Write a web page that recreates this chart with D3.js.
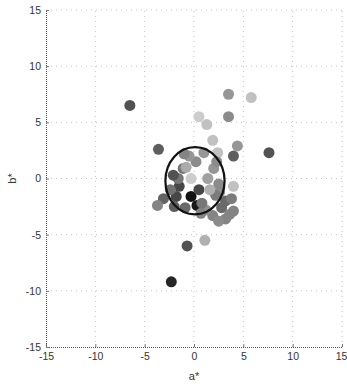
<!DOCTYPE html>
<html>
<head>
<meta charset="utf-8">
<script src="https://cdn.jsdelivr.net/npm/d3@7"></script>
<style>
  body { margin: 0; background: #fff; }
  svg { display: block; font-family: "Liberation Sans", Arial, sans-serif; }
</style>
</head>
<body>
<div id="chart"></div>
<script>
// sample colours: a*, b* and lightness L*
const aStar = [-6.5, -3.6, 7.6, -2.3, -0.7, 1.1, 3.5, 5.8, 0.5, 1.3, 3.5, 1.9, 4.4, 4.0, 2.4, 4.0,
  -3.1, -3.7, -0.3, 0.3, -1.5, -1.8, -1.1, 0.2, 1.4, -0.3, -1.6, 2.0, -2.1, 3.2, 4.0, 3.2, 1.9, 1.2, 0.7,
  0.5, -0.5, 0.8, 2.6, -0.9, -1.0, 1.0, 2.3, 2.5, 2.2, -2.0, 2.8, 3.8, 2.5, 3.6, -0.8, 1.6, -2.4];
const bStar = [6.5, 2.6, 2.3, -9.2, -6.0, -5.5, 7.5, 7.2, 5.5, 4.8, 5.5, 3.4, 2.9, 2.0, 2.3, -0.7,
  -1.8, -2.4, -1.6, -2.4, -0.7, -1.6, 0.9, 1.5, 0.0, 0.0, 0.0, 0.9, 0.3, -2.0, -2.9, -3.6, -3.3, -2.8, -3.1,
  -1.0, 2.0, -2.2, -1.2, -2.6, 2.2, 2.3, 1.5, -0.5, -1.5, -2.5, -2.6, -1.8, -3.8, -3.2, 1.0, -1.0, -1.0];
const lStar = [35, 40, 35, 15, 35, 72, 62, 78, 82, 78, 58, 78, 62, 40, 78, 78,
  42, 55, 6, 8, 30, 30, 50, 58, 66, 82, 50, 62, 35, 45, 55, 55, 55, 60, 55,
  30, 62, 50, 60, 45, 55, 62, 58, 58, 52, 40, 45, 52, 58, 55, 70, 72, 48];

// tolerance circle
const circleCenter = [0.1, -0.2];
const circleRadius = 3;

const ticks = [-15, -10, -5, 0, 5, 10, 15];

const width = 347, height = 386;
const margin = { left: 46, top: 10, right: 5, bottom: 39 };

const svg = d3.select('#chart').append('svg')
  .attr('width', width)
  .attr('height', height);

const x = d3.scaleLinear().domain([-15, 15]).range([margin.left, width - margin.right]);
const y = d3.scaleLinear().domain([-15, 15]).range([height - margin.bottom, margin.top]);

// grid
const grid = svg.append('g').attr('stroke', '#c4c4c4').attr('stroke-dasharray', '1,4');
grid.selectAll('.gx').data(ticks.slice(1)).enter().append('line')
  .attr('x1', d => x(d)).attr('x2', d => x(d))
  .attr('y1', y(-15)).attr('y2', y(15));
grid.selectAll('.gy').data(ticks.slice(1)).enter().append('line')
  .attr('y1', d => y(d)).attr('y2', d => y(d))
  .attr('x1', x(-15)).attr('x2', x(15));

// points
const pts = aStar.map((a, i) => ({ a: a, b: bStar[i], L: lStar[i] }));
svg.append('g').selectAll('circle').data(pts).enter().append('circle')
  .attr('cx', d => x(d.a))
  .attr('cy', d => y(d.b))
  .attr('r', 5.5)
  .attr('fill', d => d3.lab(d.L, 0, 0).formatHex());

// circle around the reference
svg.append('ellipse')
  .attr('cx', x(circleCenter[0]))
  .attr('cy', y(circleCenter[1]))
  .attr('rx', x(circleRadius) - x(0))
  .attr('ry', y(0) - y(circleRadius))
  .attr('fill', 'none')
  .attr('stroke', '#111')
  .attr('stroke-width', 2.2);

// axes
const xAxis = d3.axisBottom(x).tickValues(ticks).tickSize(-3).tickPadding(6);
const yAxis = d3.axisLeft(y).tickValues(ticks).tickSize(-3).tickPadding(5);

const gx = svg.append('g')
  .attr('transform', 'translate(0,' + y(-15) + ')')
  .call(xAxis);
const gy = svg.append('g')
  .attr('transform', 'translate(' + x(-15) + ',0)')
  .call(yAxis);

[gx, gy].forEach(g => {
  g.select('.domain').attr('stroke', '#555').attr('stroke-dasharray', '1,1');
  g.selectAll('.tick line').attr('stroke', '#777');
  g.selectAll('.tick text').attr('fill', '#333').style('font-size', '10.5px')
    .style('font-family', '"Liberation Sans", Arial, sans-serif');
});
gx.selectAll('.tick text').text(d => d < 0 ? '-' + Math.abs(d) : d);
gy.selectAll('.tick text').text(d => d < 0 ? '-' + Math.abs(d) : d);
gx.selectAll('.tick text').filter(d => d === 15).attr('dx', -1);

// axis titles
svg.append('text')
  .attr('x', x(0))
  .attr('y', 380)
  .attr('text-anchor', 'middle')
  .attr('fill', '#333')
  .style('font-size', '11px')
  .text('a*');

svg.append('text')
  .attr('transform', 'translate(16,' + y(0) + ') rotate(-90)')
  .attr('text-anchor', 'middle')
  .attr('fill', '#333')
  .style('font-size', '11px')
  .text('b*');
</script>
</body>
</html>
